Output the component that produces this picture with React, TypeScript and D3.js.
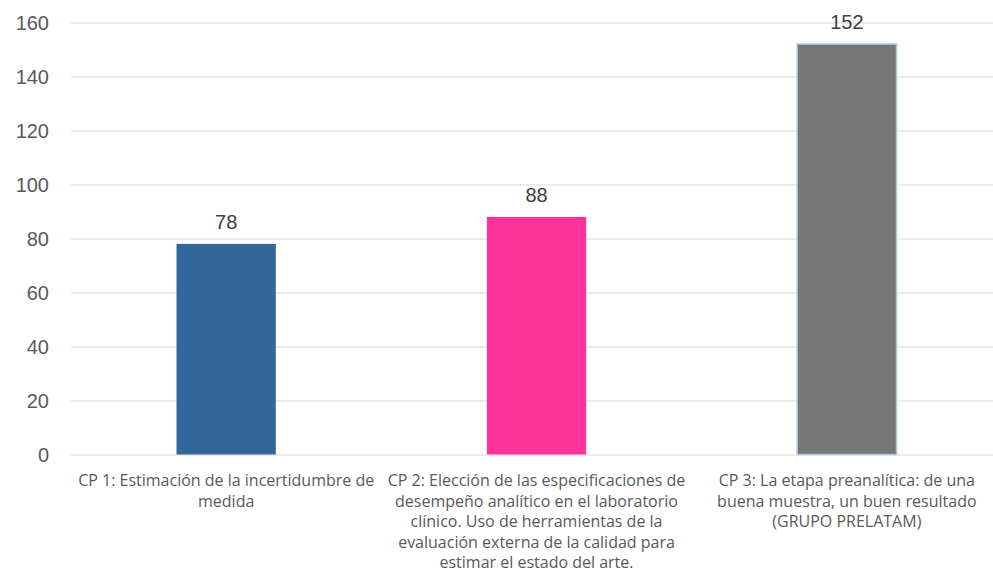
import React, { useEffect, useRef } from 'react';
import * as d3 from 'd3';

const categories = ['CP 1', 'CP 2', 'CP 3'];
const values = [78, 88, 152];
const barColors = ['#336699', '#FF3399', '#767676'];
const categoryLines = [
    ['CP 1: Estimación de la incertidumbre de', 'medida'],
    [
        'CP 2: Elección de las especificaciones de',
        'desempeño analítico en el laboratorio',
        'clínico. Uso de herramientas de la',
        'evaluación externa de la calidad para',
        'estimar el estado del arte.'
    ],
    ['CP 3: La etapa preanalítica: de una', 'buena muestra, un buen resultado', '(GRUPO PRELATAM)']
];
const yTicks = [0, 20, 40, 60, 80, 100, 120, 140, 160];

export default function App() {
    const ref = useRef<SVGSVGElement>(null);

    useEffect(() => {
        const svg = d3.select(ref.current);
        svg.selectAll('*').remove();

        const left = 71;
        const right = 1002; // plot runs past the right edge of the picture
        const top = 22.5;
        const bottom = 454.5;

        const x = d3.scaleBand<string>()
            .domain(categories)
            .range([left, right])
            .paddingInner(0.68)
            .paddingOuter(0.34);

        const y = d3.scaleLinear()
            .domain([0, 160])
            .range([bottom, top]);

        // grid
        const grid = svg.append('g')
            .attr('transform', `translate(${left}, 0)`)
            .call(d3.axisLeft(y).tickValues(yTicks).tickSize(-(right - left)).tickFormat(() => ''));
        grid.select('.domain').remove();
        grid.selectAll('line').attr('stroke', '#D9D9D9').attr('stroke-width', 1.2);

        // y labels
        svg.append('g')
            .selectAll('text')
            .data(yTicks)
            .join('text')
            .attr('x', 49)
            .attr('y', (d) => y(d) + 7)
            .attr('text-anchor', 'end')
            .attr('font-family', 'Liberation Sans, Arial, sans-serif')
            .attr('font-size', 20)
            .attr('fill', '#595959')
            .text((d) => d);

        // bars
        svg.append('g')
            .selectAll('rect')
            .data(values)
            .join('rect')
            .attr('x', (_, i) => x(categories[i]) ?? 0)
            .attr('y', (d) => y(d))
            .attr('width', x.bandwidth())
            .attr('height', (d) => y(0) - y(d))
            .attr('fill', (_, i) => barColors[i])
            .attr('stroke', (_, i) => (i === 2 ? '#A9C4EB' : 'none'))
            .attr('stroke-width', 1.5);

        // value labels
        svg.append('g')
            .selectAll('text')
            .data(values)
            .join('text')
            .attr('x', (_, i) => (x(categories[i]) ?? 0) + x.bandwidth() / 2)
            .attr('y', (d) => y(d) - 15)
            .attr('text-anchor', 'middle')
            .attr('font-family', 'Liberation Sans, Arial, sans-serif')
            .attr('font-size', 20)
            .attr('fill', '#404040')
            .text((d) => d);

        // category labels
        const cat = svg.append('g')
            .selectAll('text')
            .data(categoryLines)
            .join('text')
            .attr('text-anchor', 'middle')
            .attr('font-family', 'Open Sans, sans-serif')
            .attr('font-size', 16)
            .attr('fill', '#595959')
            .attr('transform', (_, i) => `translate(${(x(categories[i]) ?? 0) + x.bandwidth() / 2}, 486)`);

        cat.selectAll('tspan')
            .data((d) => d)
            .join('tspan')
            .attr('x', 0)
            .attr('y', (_, j) => j * 20.5)
            .text((d) => d);
    }, []);

    return (
        <svg
            ref={ref}
            width={993}
            height={577}
            style={{ position: 'absolute', left: 0, top: 0, background: '#fff' }}
        />
    );
}
